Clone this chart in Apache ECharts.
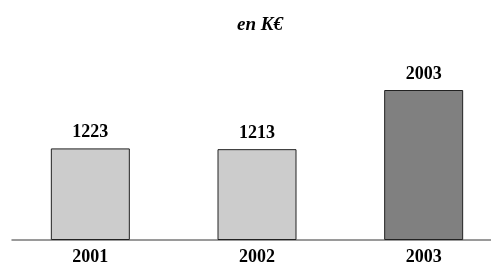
<!DOCTYPE html>
<html><head><meta charset="utf-8">
<script src="https://cdn.jsdelivr.net/npm/echarts@6/dist/echarts.min.js"></script>
<style>html,body{margin:0;padding:0;background:#fff;overflow:hidden;width:491px;height:266px}#c{width:507px;height:266px}</style>
</head><body><div id="c"></div>
<script>
const categories = ['2001', '2002', '2003'];
const values = [1223, 1213, 2003];
const barColors = ['#cccccc', '#cccccc', '#808080'];
const titleText = 'en K€';

const chart = echarts.init(document.getElementById('c'), null, {renderer: 'canvas'});
const font = 'Liberation Serif';
chart.setOption({
  animation: false,
  backgroundColor: '#ffffff',
  title: {
    text: titleText, left: 232, top: 11,
    textStyle: {fontFamily: font, fontSize: 19, fontWeight: 'bold', fontStyle: 'italic', color: '#000'}
  },
  grid: [
    {left: 7, right: 0, top: 90, bottom: 26},
    {left: 12, right: 16, top: 90, bottom: 26}
  ],
  xAxis: [
    {type: 'category', data: categories, gridIndex: 0,
     axisLine: {show: false}, axisTick: {show: false},
     axisLabel: {fontFamily: font, fontSize: 18, fontWeight: 'bold', color: '#000', margin: 8}},
    {type: 'category', data: categories, gridIndex: 1,
     axisLine: {show: true, lineStyle: {color: '#7a7a7a', width: 1.5}},
     axisTick: {show: false}, axisLabel: {show: false}}
  ],
  yAxis: [
    {type: 'value', min: 0, max: 2003, gridIndex: 0, show: false},
    {type: 'value', min: 0, max: 2003, gridIndex: 1, show: false}
  ],
  series: [{
    type: 'bar', xAxisIndex: 0, yAxisIndex: 0, barWidth: 79,
    data: values.map((v, i) => ({value: v, itemStyle: {color: barColors[i]}})),
    itemStyle: {borderColor: '#222', borderWidth: 1},
    label: {show: true, position: 'top', distance: 7, fontFamily: font, fontSize: 18, fontWeight: 'bold', color: '#000'}
  }]
});
</script></body></html>
